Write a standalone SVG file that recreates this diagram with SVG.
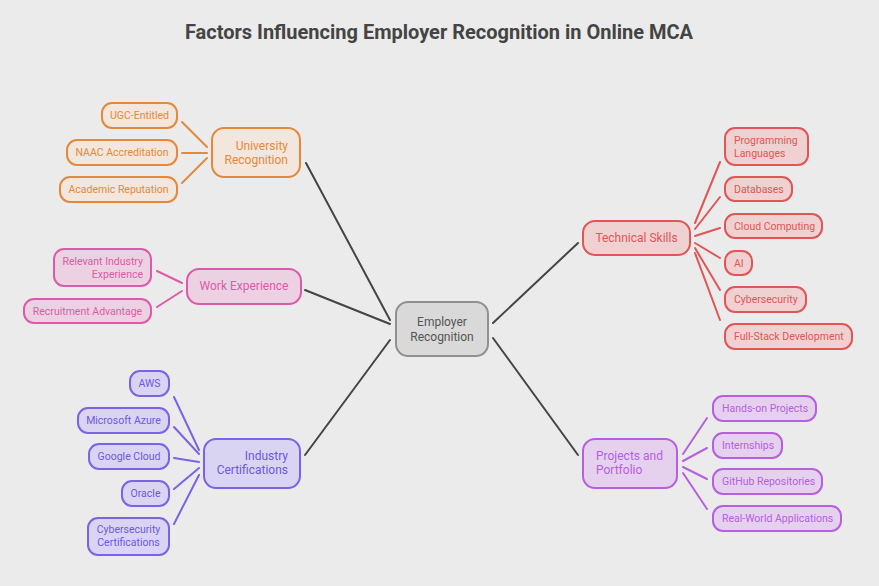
<svg xmlns="http://www.w3.org/2000/svg" width="879" height="586" viewBox="0 0 879 586">
<style>
text{font-family:Roboto,"Liberation Sans",sans-serif;font-size:10.5px}
.t{font-size:20px;font-weight:bold;fill:#444}
.m{font-size:12px}
rect{stroke-width:2}
.or rect{fill:#f3e6dc;stroke:#e3893b}.or text{fill:#e3893b}
.pk rect{fill:#ecd1e2;stroke:#dc5aa9}.pk text{fill:#dc5aa9}
.bl rect{fill:#dad4f3;stroke:#7b62e6}.bl text{fill:#6e58df}
.rd rect{fill:#efd1d1;stroke:#e05656}.rd text{fill:#e05656}
.pu rect{fill:#e5d0ed;stroke:#b65fe0}.pu text{fill:#b65fe0}
.c rect{fill:#d9d9d9;stroke:#909090}.c text{fill:#555}
#connectors line{stroke-width:2;stroke-linecap:round}
.lo{stroke:#e3893b}.lp{stroke:#dc5aa9}.lb{stroke:#7b62e6}.lr{stroke:#e05656}.lu{stroke:#b65fe0}.lg{stroke:#444}
</style>
<rect width="879" height="586" fill="#ebebeb"/>
<text class="t" x="439" y="39" text-anchor="middle">Factors Influencing Employer Recognition in Online MCA</text>
<g id="connectors">
<line class="lg" x1="306" y1="163" x2="390" y2="320"/>
<line class="lg" x1="305" y1="290" x2="390" y2="324"/>
<line class="lg" x1="305" y1="455" x2="390" y2="340"/>
<line class="lg" x1="493" y1="323" x2="578" y2="243"/>
<line class="lg" x1="493" y1="338" x2="578" y2="455"/>
<line class="lo" x1="182" y1="122" x2="207" y2="147"/>
<line class="lo" x1="182" y1="153" x2="207" y2="153"/>
<line class="lo" x1="182" y1="183" x2="207" y2="158"/>
<line class="lp" x1="157" y1="271" x2="182" y2="283"/>
<line class="lp" x1="157" y1="307" x2="182" y2="291"/>
<line class="lb" x1="174" y1="397" x2="199" y2="450"/>
<line class="lb" x1="174" y1="427" x2="199" y2="454"/>
<line class="lb" x1="174" y1="458" x2="199" y2="462"/>
<line class="lb" x1="174" y1="489" x2="199" y2="468"/>
<line class="lb" x1="174" y1="524" x2="199" y2="475"/>
<line class="lr" x1="695" y1="223" x2="720" y2="162"/>
<line class="lr" x1="695" y1="229" x2="720" y2="197"/>
<line class="lr" x1="695" y1="236" x2="720" y2="228"/>
<line class="lr" x1="695" y1="243" x2="720" y2="258"/>
<line class="lr" x1="695" y1="248" x2="720" y2="290"/>
<line class="lr" x1="695" y1="253" x2="720" y2="320"/>
<line class="lu" x1="683" y1="454" x2="707" y2="418"/>
<line class="lu" x1="683" y1="461" x2="707" y2="448"/>
<line class="lu" x1="683" y1="467" x2="707" y2="479"/>
<line class="lu" x1="683" y1="473" x2="707" y2="509"/>
</g>
<g id="center" class="c"><rect x="396" y="302" width="92" height="54" rx="12"/><text class="m" x="442" y="326" text-anchor="middle">Employer</text><text class="m" x="442" y="341" text-anchor="middle">Recognition</text></g>
<g id="univ" class="or"><rect x="212" y="128" width="88" height="49" rx="12"/><text class="m" x="288" y="150" text-anchor="end">University</text><text class="m" x="288" y="164" text-anchor="end">Recognition</text></g>
<g id="ugc" class="or"><rect x="102" y="103" width="75" height="25" rx="10"/><text x="139.5" y="119" text-anchor="middle">UGC-Entitled</text></g>
<g id="naac" class="or"><rect x="67" y="140" width="110" height="25" rx="10"/><text x="122" y="156" text-anchor="middle">NAAC Accreditation</text></g>
<g id="acad" class="or"><rect x="60" y="177" width="117" height="25" rx="10"/><text x="118.5" y="193" text-anchor="middle">Academic Reputation</text></g>
<g id="work" class="pk"><rect x="187" y="269" width="114" height="35" rx="12"/><text class="m" x="244" y="290" text-anchor="middle">Work Experience</text></g>
<g id="rel" class="pk"><rect x="54" y="249" width="97" height="37" rx="10"/><text x="143" y="265" text-anchor="end">Relevant Industry</text><text x="143" y="278" text-anchor="end">Experience</text></g>
<g id="recr" class="pk"><rect x="24" y="299" width="127" height="24" rx="10"/><text x="87.5" y="315" text-anchor="middle">Recruitment Advantage</text></g>
<g id="ind" class="bl"><rect x="204" y="439" width="96" height="49" rx="12"/><text class="m" x="288" y="460" text-anchor="end">Industry</text><text class="m" x="288" y="474" text-anchor="end">Certifications</text></g>
<g id="aws" class="bl"><rect x="130" y="371" width="39" height="25" rx="10"/><text x="149.5" y="387" text-anchor="middle">AWS</text></g>
<g id="azure" class="bl"><rect x="78" y="408" width="91" height="25" rx="10"/><text x="123.5" y="424" text-anchor="middle">Microsoft Azure</text></g>
<g id="gcloud" class="bl"><rect x="89" y="444" width="80" height="25" rx="10"/><text x="129" y="460" text-anchor="middle">Google Cloud</text></g>
<g id="oracle" class="bl"><rect x="122" y="481" width="47" height="25" rx="10"/><text x="145.5" y="497" text-anchor="middle">Oracle</text></g>
<g id="cybcert" class="bl"><rect x="88" y="518" width="81" height="37" rx="10"/><text x="128.5" y="533" text-anchor="middle">Cybersecurity</text><text x="128.5" y="546" text-anchor="middle">Certifications</text></g>
<g id="tech" class="rd"><rect x="583" y="221" width="107" height="34" rx="12"/><text class="m" x="636.5" y="242" text-anchor="middle">Technical Skills</text></g>
<g id="prog" class="rd"><rect x="725" y="128" width="83" height="37" rx="10"/><text x="734" y="144">Programming</text><text x="734" y="157">Languages</text></g>
<g id="db" class="rd"><rect x="725" y="177" width="67" height="24" rx="10"/><text x="734" y="193">Databases</text></g>
<g id="cloud" class="rd"><rect x="725" y="214" width="97" height="24" rx="10"/><text x="734" y="230">Cloud Computing</text></g>
<g id="ai" class="rd"><rect x="725" y="251" width="27" height="24" rx="10"/><text x="734" y="267">AI</text></g>
<g id="cyber" class="rd"><rect x="725" y="287" width="81" height="25" rx="10"/><text x="734" y="303">Cybersecurity</text></g>
<g id="fs" class="rd"><rect x="725" y="324" width="127" height="25" rx="10"/><text x="734" y="340">Full-Stack Development</text></g>
<g id="proj" class="pu"><rect x="583" y="439" width="94" height="49" rx="12"/><text class="m" x="596" y="460">Projects and</text><text class="m" x="596" y="474">Portfolio</text></g>
<g id="hands" class="pu"><rect x="713" y="396" width="103" height="25" rx="10"/><text x="722" y="412">Hands-on Projects</text></g>
<g id="intern" class="pu"><rect x="713" y="433" width="69" height="25" rx="10"/><text x="722" y="449">Internships</text></g>
<g id="git" class="pu"><rect x="713" y="469" width="109" height="25" rx="10"/><text x="722" y="485">GitHub Repositories</text></g>
<g id="real" class="pu"><rect x="713" y="506" width="128" height="25" rx="10"/><text x="722" y="522">Real-World Applications</text></g>
</svg>
